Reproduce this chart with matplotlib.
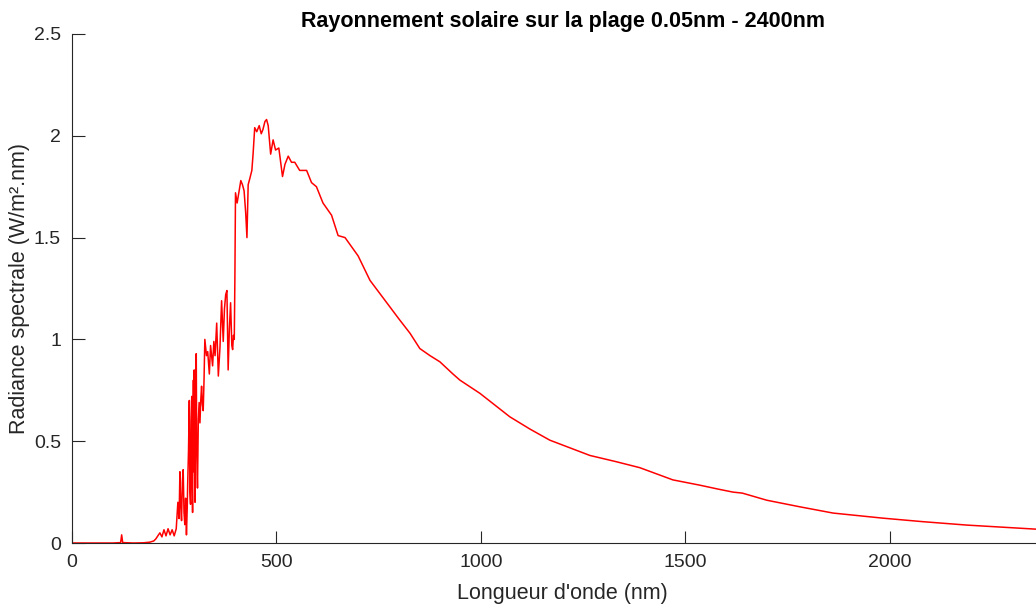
import numpy as np
import matplotlib.pyplot as plt

plt.rcParams['font.family'] = ['Liberation Sans', 'DejaVu Sans']

# Spectre solaire
wavelength = [0.05, 100, 119, 121.5, 124, 150, 175, 190, 200, 205, 210, 215,
              220, 225, 230, 235, 240, 245, 250, 255, 259, 262, 264, 266, 268,
              270, 272, 274, 276, 278, 280, 282, 283, 285, 287, 288.5, 290,
              291.5, 293, 294, 295, 296, 297, 298, 299, 300, 301, 302, 304, 305,
              307, 309, 311, 313, 315, 317, 319, 321, 323, 325, 329, 332, 336,
              339, 344, 347, 350, 354, 358, 362, 366, 370, 373, 376, 379, 382,
              385, 388, 391, 393, 395, 397, 398.5, 400, 404, 408, 413, 417, 421,
              425, 428, 431, 435, 440, 443, 447, 452, 458, 463, 467, 472, 476,
              480, 486, 492, 498, 506, 515, 521, 529, 537, 545, 557, 574, 586,
              598, 614, 635, 651, 668, 700, 729, 770, 800, 827, 851, 876, 900,
              932, 949, 998, 1071, 1120, 1169, 1267, 1330, 1389, 1470, 1536,
              1580, 1617, 1640, 1700, 1780, 1862, 1984, 2080, 2189, 2300, 2400]
radiance = [0.0, 0.0, 0.002, 0.04, 0.002, 0.0, 0.001, 0.004, 0.01, 0.02, 0.035,
            0.05, 0.03, 0.065, 0.035, 0.07, 0.04, 0.065, 0.035, 0.07, 0.20,
            0.12, 0.35, 0.18, 0.11, 0.30, 0.36, 0.15, 0.09, 0.22, 0.04, 0.18,
            0.29, 0.45, 0.70, 0.25, 0.19, 0.60, 0.72, 0.30, 0.15, 0.55, 0.80,
            0.35, 0.85, 0.40, 0.20, 0.70, 0.93, 0.45, 0.27, 0.60, 0.69, 0.59,
            0.70, 0.77, 0.68, 0.65, 0.80, 1.00, 0.92, 0.94, 0.83, 0.97, 0.87,
            0.99, 0.92, 1.08, 0.82, 0.96, 1.19, 0.99, 1.15, 1.22, 1.24, 0.85,
            1.05, 1.18, 0.97, 0.95, 1.02, 1.00, 1.30, 1.72, 1.67, 1.72, 1.78,
            1.76, 1.73, 1.62, 1.50, 1.76, 1.79, 1.83, 1.91, 2.04, 2.02, 2.05,
            2.01, 2.03, 2.07, 2.08, 2.05, 1.91, 1.98, 1.93, 1.94, 1.80, 1.86,
            1.90, 1.87, 1.87, 1.83, 1.83, 1.77, 1.75, 1.67, 1.61, 1.51, 1.50,
            1.41, 1.29, 1.18, 1.10, 1.03, 0.955, 0.92, 0.89, 0.83, 0.80, 0.735,
            0.62, 0.56, 0.505, 0.43, 0.40, 0.37, 0.31, 0.284, 0.265, 0.25, 0.245,
            0.21, 0.178, 0.147, 0.122, 0.105, 0.088, 0.075, 0.063]

y_ticks = [0, 0.5, 1, 1.5, 2, 2.5]
y_tick_labels = ['0', '0.5', '1', '1.5', '2', '2.5']
x_ticks = [0, 500, 1000, 1500, 2000]

fig = plt.figure(figsize=(10.36, 6.07), dpi=100)
ax = fig.add_axes([72/1036, 64/607, 981/1036, 509/607])

ax.plot(wavelength, radiance, color='#ff0000', linewidth=1.1)

ax.set_xlim(0, 2400)
ax.set_ylim(0, 2.5)
ax.set_xticks(x_ticks)
ax.set_yticks(y_ticks)
ax.set_yticklabels(y_tick_labels)

axis_color = '#262626'
for side in ['top', 'right']:
    ax.spines[side].set_visible(False)
for side in ['left', 'bottom']:
    ax.spines[side].set_color(axis_color)
    ax.spines[side].set_linewidth(0.8)
ax.tick_params(direction='in', length=9, width=0.8, colors=axis_color,
               labelsize=14, pad=8)

ax.set_title('Rayonnement solaire sur la plage 0.05nm - 2400nm',
             fontsize=15.5, fontweight='bold', pad=5)
ax.set_xlabel("Longueur d'onde (nm)", fontsize=15.5, color=axis_color,
              va='center')
ax.set_ylabel('Radiance spectrale (W/m².nm)', fontsize=15.5, color=axis_color,
              va='center')
ax.xaxis.set_label_coords(0.5, -50/509)
ax.yaxis.set_label_coords(-52/981, 0.5)

fig.savefig('out.png', dpi=100)
